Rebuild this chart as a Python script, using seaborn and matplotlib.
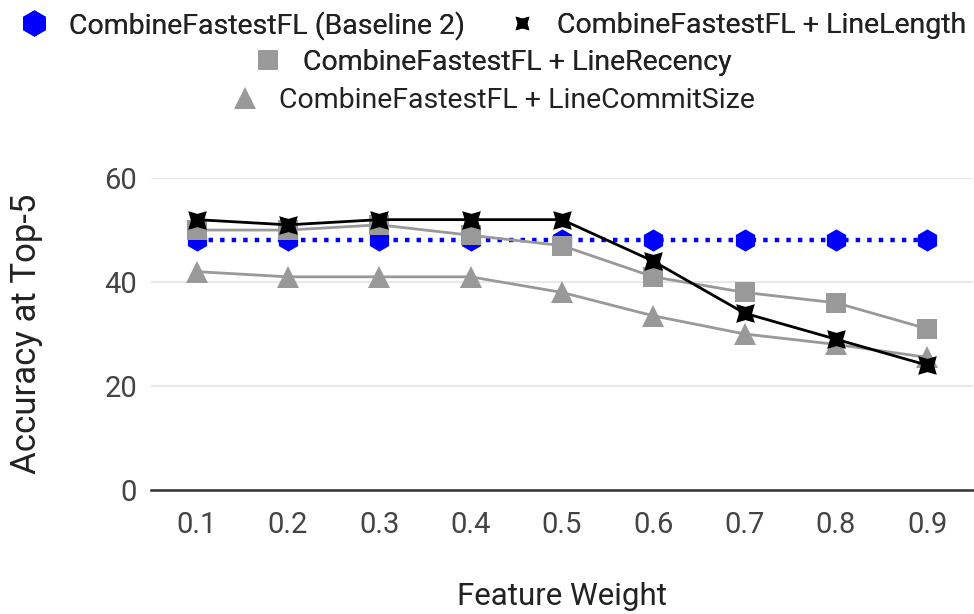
import matplotlib
matplotlib.use("Agg")
import matplotlib.pyplot as plt
import seaborn as sns
from matplotlib.lines import Line2D

# Feature weights on the x axis
weights = ["0.1", "0.2", "0.3", "0.4", "0.5", "0.6", "0.7", "0.8", "0.9"]

# Accuracy at Top-5 for each configuration
baseline = [48, 48, 48, 48, 48, 48, 48, 48, 48]
line_length = [52, 51, 52, 52, 52, 44, 34, 29, 24]
line_recency = [50, 50, 51, 49, 47, 41, 38, 36, 31]
line_commit_size = [42, 41, 41, 41, 38, 33.5, 30, 28, 25.5]

names = [
    "CombineFastestFL (Baseline 2)",
    "CombineFastestFL + LineLength",
    "CombineFastestFL + LineRecency",
    "CombineFastestFL + LineCommitSize",
]

y_ticks = [0, 20, 40, 60]

sns.set_theme(style="white")
plt.rcParams["font.family"] = ["Roboto", "DejaVu Sans"]

fig = plt.figure(figsize=(9.74, 6.14), dpi=100)
ax = fig.add_axes([0.155, 0.202, 0.844, 0.508])

star = (4, 1, 45)
styles = {
    names[0]: dict(color="#0000ff", marker="h", markersize=16, linewidth=3.2,
                   linestyle=(0, (1, 1.6)), legend_size=19),
    names[2]: dict(color="#999999", marker="s", markersize=14, linewidth=2,
                   legend_size=14),
    names[3]: dict(color="#999999", marker="^", markersize=16, linewidth=2,
                   legend_size=16),
    names[1]: dict(color="#000000", marker=star, markersize=19, linewidth=2,
                   legend_size=14),
}
series = {names[0]: baseline, names[1]: line_length,
          names[2]: line_recency, names[3]: line_commit_size}

draw_order = [names[0], names[3], names[2], names[1]]
for z, name in enumerate(draw_order):
    st = styles[name]
    sns.lineplot(x=weights, y=series[name], ax=ax, color=st["color"],
                 marker=st["marker"], markersize=st["markersize"],
                 linewidth=st["linewidth"], markeredgewidth=0,
                 linestyle=st.get("linestyle", "-"), zorder=3 + z, legend=False)

ax.set_xlim(-0.5, len(weights) - 0.5)
ax.set_ylim(0, 60)
ax.set_yticks(y_ticks)
ax.grid(axis="y", color="#e6e6e6", linewidth=1.3)
ax.grid(axis="x", visible=False)
for side in ["top", "right", "left"]:
    ax.spines[side].set_visible(False)
ax.spines["bottom"].set_color("#333333")
ax.spines["bottom"].set_linewidth(1.8)
ax.spines["bottom"].set_zorder(2)
ax.tick_params(axis="x", length=0, pad=15, labelsize=21, labelcolor="#444444")
ax.tick_params(axis="y", length=0, pad=10, labelsize=21, labelcolor="#444444")
ax.set_xlabel("Feature Weight", fontsize=22.5, color="#222222", labelpad=31)
ax.set_ylabel("Accuracy at Top-5", fontsize=25, color="#222222", labelpad=44)

def handle(name):
    st = styles[name]
    return Line2D([], [], color=st["color"], marker=st["marker"],
                  markersize=st["legend_size"], linestyle="none",
                  markeredgewidth=0)

legend_kw = dict(frameon=False, fontsize=20.5, handlelength=1.0,
                 handletextpad=0.72, labelcolor="#222222", loc="center",
                 borderaxespad=0, borderpad=0)
row1 = fig.legend([handle(names[0]), handle(names[1])], names[:2], ncol=2,
                  columnspacing=1.5, bbox_to_anchor=(0.506, 0.959), **legend_kw)
fig.add_artist(row1)
row2 = fig.legend([handle(names[2])], [names[2]],
                  bbox_to_anchor=(0.506, 0.899), **legend_kw)
fig.add_artist(row2)
fig.legend([handle(names[3])], [names[3]],
           bbox_to_anchor=(0.506, 0.837), **legend_kw)

fig.savefig("out.png", dpi=100)
